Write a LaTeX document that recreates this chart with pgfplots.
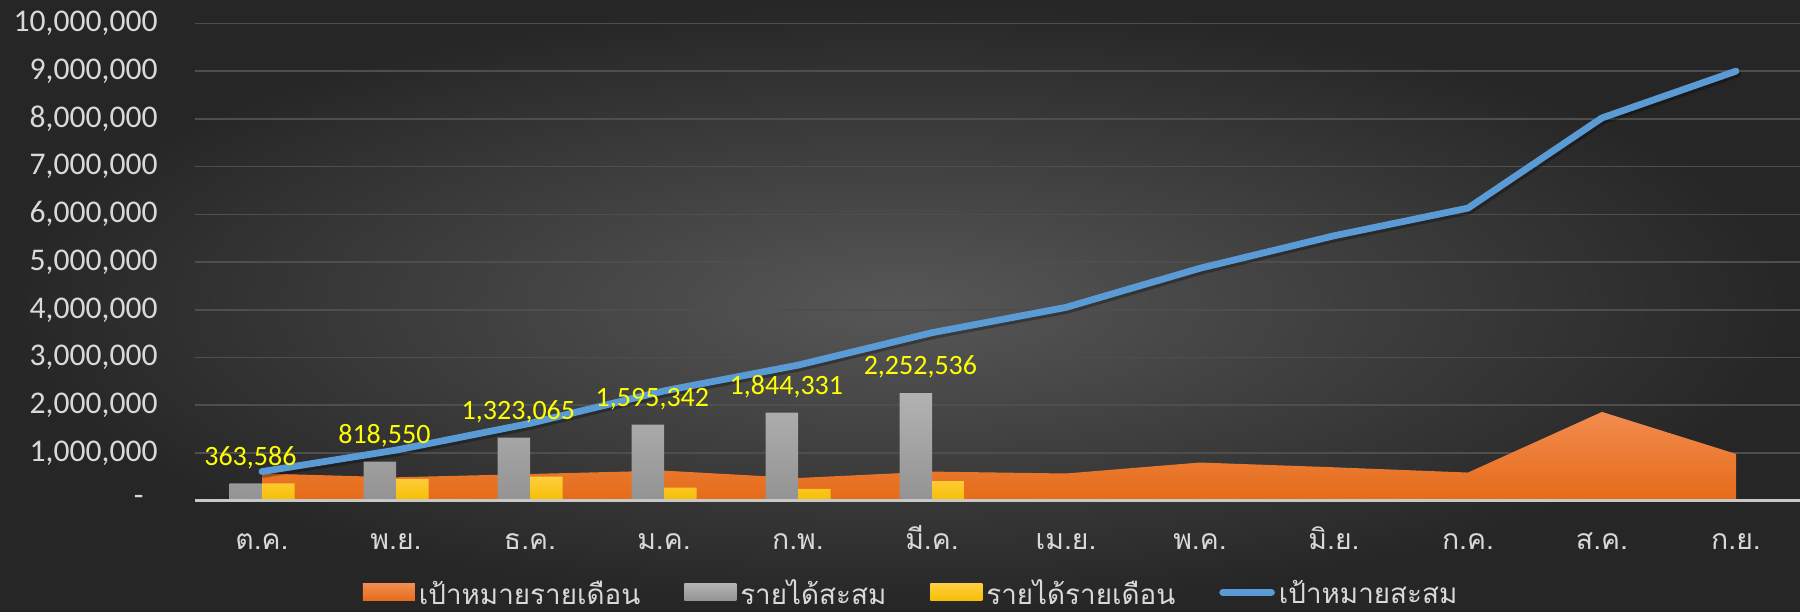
\documentclass[border=0pt]{standalone}
\usepackage{pgfplots}
\pgfplotsset{compat=1.18}
\usepackage{pgfplotstable}
\usepackage{fontspec}
\setmainfont{Carlito}
\newfontfamily\thaifont[Script=Thai]{Loma}
\definecolor{bgin}{HTML}{575757}
\definecolor{bgout}{HTML}{262626}
\definecolor{gridc}{HTML}{4E4E4E}
\definecolor{tickc}{HTML}{D9D9D9}
\definecolor{axisc}{HTML}{C8C8C8}
\definecolor{oratop}{HTML}{F28C50}
\definecolor{orabot}{HTML}{E56B18}
\definecolor{graytop}{HTML}{B2B2B2}
\definecolor{graybot}{HTML}{939393}
\definecolor{yeltop}{HTML}{FFCD40}
\definecolor{yelbot}{HTML}{F5BF00}
\definecolor{blueline}{HTML}{5B9BD5}
\definecolor{labc}{HTML}{FFFF00}

\pgfplotstableread{
x target cumtarget
0 570000 610000
1 490000 1060000
2 560000 1620000
3 630000 2300000
4 475000 2840000
5 610000 3520000
6 570000 4050000
7 800000 4870000
8 700000 5550000
9 590000 6130000
10 1860000 8020000
11 980000 9000000
}\targets

\pgfplotstableread{
x cum mon lab
0 363586 363586 363,586
1 818550 454964 818,550
2 1323065 504515 1,323,065
3 1595342 272277 1,595,342
4 1844331 248989 1,844,331
5 2252536 408205 2,252,536
}\revenue

\begin{document}
\begin{tikzpicture}
\useasboundingbox (0,0) rectangle (900pt,305.5pt);
\shade[inner color=bgin, outer color=bgout] (0,0) rectangle (900pt,305.5pt);
\begin{axis}[
  at={(97.5pt,55.15pt)}, anchor=south west,
  scale only axis, width=804pt, height=238.65pt,
  xmin=-0.5, xmax=11.5, ymin=0, ymax=10000000,
  enlargelimits=false,
  scaled y ticks=false,
  axis line style={draw=none},
  tick style={draw=none},
  xtick={0,1,2,3,4,5,6,7,8,9,10,11},
  xticklabels={ต.ค., พ.ย., ธ.ค., ม.ค., ก.พ., มี.ค., เม.ย., พ.ค., มิ.ย., ก.ค., ส.ค., ก.ย.},
  xticklabel style={font=\thaifont\fontsize{14.2}{17}\selectfont, text=tickc, anchor=base, yshift=-24.3pt},
  ytick={0,1000000,2000000,3000000,4000000,5000000,6000000,7000000,8000000,9000000,10000000},
  yticklabels={{-\hspace*{7pt}},{1,000,000},{2,000,000},{3,000,000},{4,000,000},{5,000,000},{6,000,000},{7,000,000},{8,000,000},{9,000,000},{10,000,000}},
  yticklabel style={font=\fontsize{15.8}{18}\selectfont, text=tickc, anchor=east, inner sep=0pt, xshift=-18.5pt},
  ymajorgrids, major grid style={draw=gridc, line width=0.8pt},
  clip=false,
  legend style={at={(0.446,-0.192)}, anchor=center, draw=none, fill=none,
    font=\thaifont\fontsize{13.9}{17}\selectfont, text=tickc, legend columns=4,
    nodes={inner ysep=0pt, text depth=0pt},
    /tikz/every even column/.append style={column sep=20pt}},
  legend cell align=left,
]
% monthly target (area)
\addplot[draw=none, top color=oratop, bottom color=orabot, forget plot]
  table[x=x, y=target] {\targets} \closedcycle;
% cumulative target line shadow + line
\addplot[black, opacity=0.3, line width=3.4pt, line cap=round, line join=round, xshift=0.8pt, yshift=-1.4pt, forget plot]
  table[x=x, y=cumtarget] {\targets};
\addplot[blueline, line width=3.4pt, line cap=round, line join=round, forget plot]
  table[x=x, y=cumtarget] {\targets};
% cumulative revenue bars
\addplot[ybar, bar width=16.25pt, bar shift=-8.125pt, draw=none, top color=graytop, bottom color=graybot, forget plot]
  table[x=x, y=cum] {\revenue};
% labels
\addplot[ybar, bar width=16.25pt, bar shift=-8.125pt, draw=none, fill=none, forget plot,
  point meta=explicit symbolic, nodes near coords,
  nodes near coords style={font=\fontsize{14}{16}\selectfont, text=labc, anchor=base, inner sep=0pt, yshift=9.15pt, xshift=-5.8pt}]
  table[x=x, y=cum, meta=lab] {\revenue};
% monthly revenue bars
\addplot[ybar, bar width=16.25pt, bar shift=8.125pt, draw=none, top color=yeltop, bottom color=yelbot, forget plot]
  table[x=x, y=mon] {\revenue};
\draw[axisc, line width=1.3pt] (axis cs:-0.5,0) -- (axis cs:11.5,0);
% legend
\addlegendimage{legend image code/.code={\path[draw=none, top color=oratop, bottom color=orabot] (0pt,-4.25pt) rectangle (26pt,4.25pt);}}
\addlegendentry{เป้าหมายรายเดือน}
\addlegendimage{legend image code/.code={\path[draw=none, top color=graytop, bottom color=graybot] (0pt,-4.25pt) rectangle (26pt,4.25pt);}}
\addlegendentry{รายได้สะสม}
\addlegendimage{legend image code/.code={\path[draw=none, top color=yeltop, bottom color=yelbot] (0pt,-4.25pt) rectangle (26pt,4.25pt);}}
\addlegendentry{รายได้รายเดือน}
\addlegendimage{legend image code/.code={\draw[blueline, line width=3.6pt, line cap=round] (1.8pt,0pt) -- (26pt,0pt);}}
\addlegendentry{เป้าหมายสะสม}
\end{axis}
\end{tikzpicture}
\end{document}
